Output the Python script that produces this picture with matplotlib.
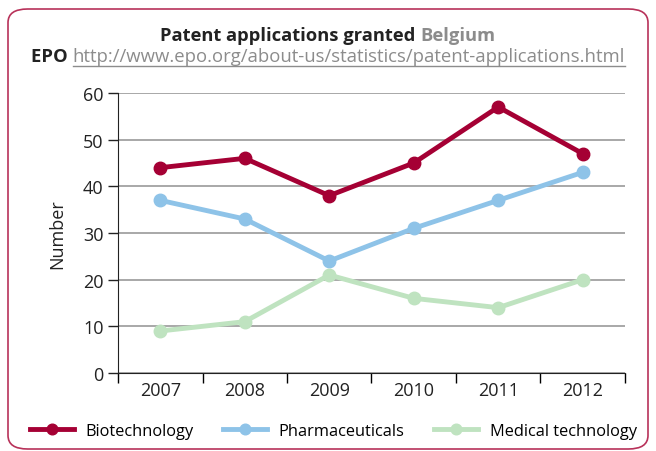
import numpy as np
import matplotlib
matplotlib.use("Agg")
import matplotlib.pyplot as plt
from matplotlib.patches import FancyBboxPatch
from matplotlib.lines import Line2D

years = ["2007", "2008", "2009", "2010", "2011", "2012"]
biotech = [44, 46, 38, 45, 57, 47]
pharma = [37, 33, 24, 31, 37, 43]
medtech = [9, 11, 21, 16, 14, 20]

plt.rcParams['font.family'] = ['Open Sans', 'DejaVu Sans']

fig = plt.figure(figsize=(6.56, 4.52), dpi=100)
W, H = 656, 452

# rounded frame
frame = FancyBboxPatch((8 / W, 2 / H), 640 / W, 440 / H,
                       boxstyle="round,pad=0,rounding_size=0.03",
                       transform=fig.transFigure, fill=False,
                       edgecolor="#b8325a", linewidth=1.2)
fig.patches.append(frame)

ax = fig.add_axes([118 / W, 1 - 374 / H, 507 / W, 280 / H])
x = np.arange(len(years))
ax.plot(x, biotech, color="#a50034", lw=3.5, marker="o", ms=9, label="Biotechnology", zorder=3)
ax.plot(x, pharma, color="#8ec3e8", lw=3.5, marker="o", ms=9, label="Pharmaceuticals", zorder=3)
ax.plot(x, medtech, color="#bfe3c0", lw=3.5, marker="o", ms=9, label="Medical technology", zorder=3)

ax.set_xlim(-0.5, 5.5)
ax.set_ylim(0, 60)
ax.set_yticks(range(0, 61, 10))
ax.yaxis.grid(True, color="#999999", lw=1.2)
ax.set_axisbelow(True)
ax.set_xticks(x)
ax.set_xticklabels(years, fontsize=13)
ax.set_xticks(np.arange(-0.5, 6, 1), minor=True)
ax.tick_params(axis="x", which="major", length=0, pad=6, colors="#222222")
ax.tick_params(axis="x", which="minor", length=7, width=1, direction="out")
ax.tick_params(axis="y", length=7, width=1, labelsize=13, colors="#222222")
for s in ["top", "right"]:
    ax.spines[s].set_visible(False)
ax.spines["left"].set_color("#222222")
ax.spines["bottom"].set_color("#222222")
ax.set_ylabel("Number", fontsize=13, labelpad=12, color="#222222")

# title in two colours
fig.canvas.draw()
r = fig.canvas.get_renderer()
t1 = fig.text(0, 1 - 36 / H, "Patent applications granted ", fontsize=13.2, weight="bold",
              color="#222222", va="center")
t2 = fig.text(0, 1 - 36 / H, "Belgium", fontsize=13.2, weight="bold", color="#8c8c8c", va="center")
w1 = t1.get_window_extent(r).width
w2 = t2.get_window_extent(r).width
x0 = (W - w1 - w2) / 2
t1.set_x(x0 / W)
t2.set_x((x0 + w1) / W)

s1 = fig.text(0, 1 - 57 / H, "EPO ", fontsize=13.3, weight="bold", color="#222222", va="center")
s2 = fig.text(0, 1 - 57 / H, "http://www.epo.org/about-us/statistics/patent-applications.html",
              fontsize=13.3, color="#8c8c8c", va="center")
v1 = s1.get_window_extent(r).width
v2 = s2.get_window_extent(r).width
x0 = (W - v1 - v2) / 2
s1.set_x(x0 / W)
s2.set_x((x0 + v1) / W)
fig.add_artist(Line2D([(x0 + v1) / W, (x0 + v1 + v2) / W], [1 - 67 / H, 1 - 67 / H],
                      transform=fig.transFigure, color="#8c8c8c", lw=1))

fig.legend(loc="center", bbox_to_anchor=(0.508, 1 - 432 / H), ncol=3, frameon=False,
           fontsize=11.8, handlelength=2.7, handletextpad=0.7, columnspacing=1.8,
           markerscale=0.85)

fig.savefig("out.png", dpi=100)
